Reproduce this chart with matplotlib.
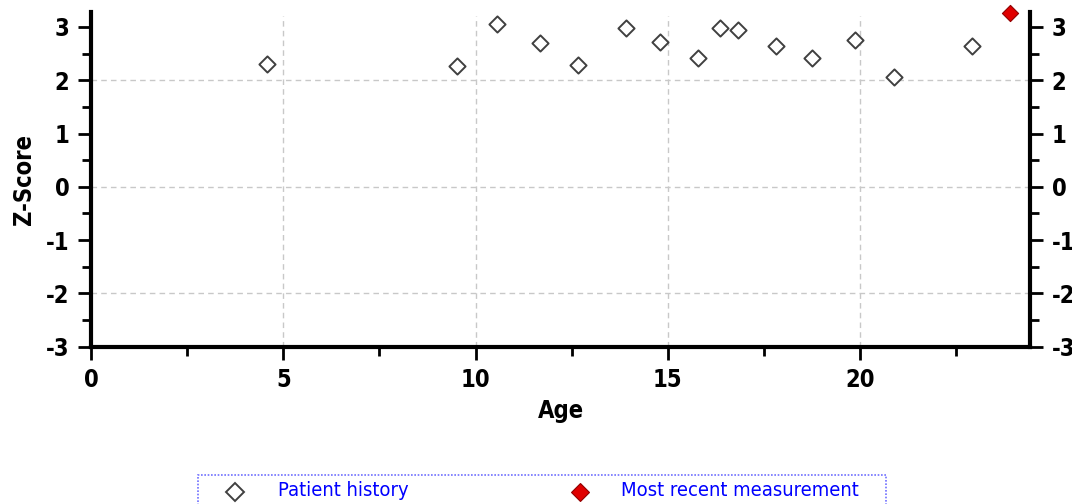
import matplotlib
matplotlib.use("Agg")
import matplotlib.pyplot as plt
from matplotlib.lines import Line2D
from matplotlib.patches import Rectangle
from matplotlib.ticker import MultipleLocator, FixedLocator

# Data
history_age = [4.58, 9.52, 10.56, 11.68, 12.67, 13.91, 14.80, 15.79, 16.36, 16.83,
               17.82, 18.75, 19.87, 20.88, 22.91]
history_z = [2.30, 2.26, 3.05, 2.70, 2.28, 2.98, 2.71, 2.41, 2.98, 2.94,
             2.64, 2.41, 2.75, 2.06, 2.64]
recent_age = [23.90]
recent_z = [3.26]
x_ticks = [0, 5, 10, 15, 20]
y_ticks = [-3, -2, -1, 0, 1, 2, 3]
legend_labels = ["Patient history", "Most recent measurement"]

plt.rcParams["font.family"] = ["DejaVu Sans"]
plt.rcParams["font.stretch"] = "condensed"

fig = plt.figure(figsize=(10.72, 5.04), dpi=100)
ax = fig.add_axes([91/1072, 1-346.7/504, (1030-91)/1072, (346.7-12)/504])

ax.set_xlim(0, 24.42)
ax.set_ylim(-3, 3.28)

# grid
for gx in [5, 10, 15, 20]:
    ax.plot([gx, gx], [-3, 3.2], color="#c8c8c8", lw=1, ls=(0, (4, 3)), zorder=1)
for gy in [-2, 0, 2]:
    ax.axhline(gy, color="#c8c8c8", lw=1, ls=(0, (4, 3)), zorder=1)

ax.scatter(history_age, history_z, marker="D", s=68, facecolors="white",
           edgecolors="#404040", linewidths=1.4, zorder=3, clip_on=False)
ax.scatter(recent_age, recent_z, marker="D", s=68, facecolors="#e00000",
           edgecolors="#900000", linewidths=0.8, zorder=3, clip_on=False)

for s in ["left", "right", "bottom"]:
    ax.spines[s].set_linewidth(3)
    ax.spines[s].set_color("black")
ax.spines["top"].set_visible(False)

ax.xaxis.set_major_locator(FixedLocator(x_ticks))
ax.xaxis.set_minor_locator(MultipleLocator(2.5))
ax.yaxis.set_major_locator(FixedLocator(y_ticks))
ax.yaxis.set_minor_locator(MultipleLocator(0.5))
ax.tick_params(axis="both", which="major", direction="out", length=9.5, width=2,
               labelsize=17, color="black")
ax.tick_params(axis="both", which="minor", direction="out", length=6.5, width=2)
ax.tick_params(axis="y", which="both", left=True, right=True, labelleft=True, labelright=True)
ax.tick_params(axis="y", which="major", pad=6)
ax.tick_params(axis="x", which="major", pad=6)

ax.set_xticklabels([str(v) for v in x_ticks])
ax.set_yticklabels([str(v) for v in y_ticks])
for tk in ax.xaxis.get_major_ticks() + ax.yaxis.get_major_ticks():
    tk.label1.set_fontweight("bold")
    tk.label2.set_fontweight("bold")

ax.set_xlabel("Age", fontsize=17, fontweight="bold", labelpad=5)
ax.set_ylabel("Z-Score", fontsize=17, fontweight="bold", labelpad=7)

# legend box
W, H = 1072, 504
fig.patches.append(Rectangle((198/W, -0.02), (886-198)/W, (504-474.5)/H + 0.02,
                             transform=fig.transFigure, fill=False,
                             edgecolor="#7070ff", lw=1.2, ls=(0, (1, 1))))
fig.lines.append(Line2D([235/W], [1-492/H], transform=fig.transFigure, marker="D",
                        ms=9.5, mfc="white", mec="#404040", mew=1.4, ls="none"))
fig.lines.append(Line2D([580/W], [1-492/H], transform=fig.transFigure, marker="D",
                        ms=9.5, mfc="#e00000", mec="#900000", mew=0.8, ls="none"))
fig.text(278/W, 1-491/H, legend_labels[0], color="#0000ff", fontsize=14.5, va="center", ha="left")
fig.text(621/W, 1-491/H, legend_labels[1], color="#0000ff", fontsize=14.5, va="center", ha="left")

fig.savefig("out.png", dpi=100)
